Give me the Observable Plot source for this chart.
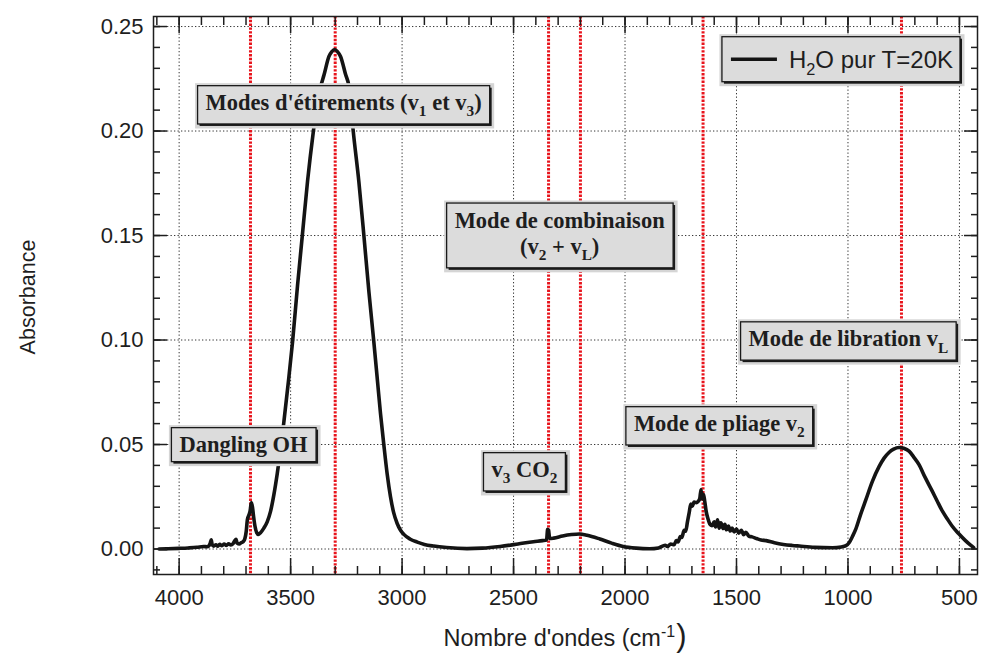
<!DOCTYPE html>
<html>
<head>
<meta charset="utf-8">
<script src="https://cdn.jsdelivr.net/npm/d3@7"></script>
<script src="https://cdn.jsdelivr.net/npm/@observablehq/plot@0.6"></script>
<style>
  html, body { margin: 0; padding: 0; background: #ffffff; }
  #chart { width: 981px; height: 657px; }
</style>
</head>
<body>
<div id="chart"></div>
<script>
// ---------------- Data ----------------
const wavenumbers = [
  4090, 4050, 4000, 3960, 3920, 3890, 3875, 3866, 3860, 3856, 3852, 3845, 3835, 3828, 3818, 3808,
  3798, 3788, 3778, 3768, 3758, 3750, 3745, 3740, 3730, 3722, 3712, 3705, 3699, 3694, 3688, 3682,
  3676, 3671, 3666, 3660, 3652, 3645, 3635, 3620, 3605, 3590, 3575, 3560, 3547, 3530, 3510, 3491,
  3469, 3447, 3424, 3398, 3380, 3365, 3350, 3328, 3315, 3302, 3290, 3276, 3253, 3238, 3219, 3194,
  3171, 3149, 3127, 3110, 3097, 3082, 3067, 3052, 3038, 3022, 3007, 2992, 2965, 2932, 2900, 2858, 2800,
  2709, 2640, 2560, 2480, 2411, 2370, 2352, 2347, 2343, 2338, 2320, 2280, 2240, 2205, 2170, 2113,
  2060, 2008, 1950, 1890, 1850, 1820, 1810, 1795, 1780, 1770, 1762, 1752, 1745, 1735, 1728, 1720,
  1712, 1705, 1698, 1690, 1680, 1672, 1665, 1659, 1655, 1648, 1642, 1636, 1628, 1620, 1610, 1600,
  1594, 1585, 1578, 1570, 1560, 1552, 1545, 1536, 1528, 1520, 1510, 1500, 1490, 1478, 1468, 1458,
  1445, 1430, 1410, 1390, 1367, 1330, 1290, 1250, 1218, 1150, 1069, 1030, 1009, 995, 980, 965,
  945, 920, 890, 860, 838, 816, 795, 771, 750, 726, 705, 682, 655, 622, 600, 577,
  555, 533, 505, 473, 450, 436
];
const absorbance = [
  0.0000, 0.0001, 0.0003, 0.0005, 0.0008, 0.0012, 0.0011, 0.0016, 0.0030, 0.0044, 0.0022, 0.0014, 0.0020, 0.0013, 0.0022, 0.0016,
  0.0024, 0.0017, 0.0025, 0.0019, 0.0026, 0.0040, 0.0047, 0.0028, 0.0024, 0.0030, 0.0036, 0.0050, 0.0085, 0.0140, 0.0160, 0.0180,
  0.0222, 0.0200, 0.0155, 0.0110, 0.0078, 0.0070, 0.0078, 0.0100, 0.0130, 0.0180, 0.0260, 0.0360, 0.0460, 0.0610, 0.0800, 0.0994,
  0.1260, 0.1505, 0.1760, 0.1998, 0.2140, 0.2213, 0.2269, 0.2357, 0.2380, 0.2390, 0.2380, 0.2357, 0.2269, 0.2213, 0.1998, 0.1759,
  0.1496, 0.1233, 0.0994, 0.0800, 0.0650, 0.0500, 0.0360, 0.0250, 0.0175, 0.0122, 0.0090, 0.0070, 0.0048, 0.0033, 0.0022, 0.0014, 0.0007,
  0.0002, 0.0004, 0.0012, 0.0024, 0.0035, 0.0040, 0.0043, 0.0094, 0.0090, 0.0050, 0.0052, 0.0062, 0.0069, 0.0072, 0.0066, 0.0048,
  0.0028, 0.0012, 0.0004, 0.0001, 0.0005, 0.0018, 0.0012, 0.0024, 0.0020, 0.0040, 0.0034, 0.0060, 0.0055, 0.0090, 0.0085, 0.0130,
  0.0175, 0.0215, 0.0205, 0.0225, 0.0222, 0.0228, 0.0240, 0.0285, 0.0240, 0.0262, 0.0225, 0.0180, 0.0145, 0.0120, 0.0112, 0.0130,
  0.0105, 0.0140, 0.0100, 0.0125, 0.0098, 0.0118, 0.0092, 0.0110, 0.0086, 0.0100, 0.0082, 0.0095, 0.0076, 0.0090, 0.0068, 0.0080,
  0.0062, 0.0058, 0.0050, 0.0043, 0.0040, 0.0030, 0.0022, 0.0017, 0.0014, 0.0008, 0.0006, 0.0010, 0.0016, 0.0030, 0.0060, 0.0095,
  0.0160, 0.0235, 0.0325, 0.0395, 0.0435, 0.0462, 0.0478, 0.0486, 0.0482, 0.0468, 0.0440, 0.0405, 0.0345, 0.0277, 0.0230, 0.0182,
  0.0145, 0.0110, 0.0075, 0.0040, 0.0018, 0.0006
];

// Vertical red dotted markers (cm-1)
const markerWavenumbers = [3680, 3300, 2343, 2200, 1650, 760];

// Axis ticks
const xMajorTicks = [4000, 3500, 3000, 2500, 2000, 1500, 1000, 500];
const xMinorTicks = [4100, 4000, 3900, 3800, 3700, 3600, 3500, 3400, 3300, 3200, 3100, 3000, 2900, 2800,
  2700, 2600, 2500, 2400, 2300, 2200, 2100, 2000, 1900, 1800, 1700, 1600, 1500, 1400, 1300, 1200,
  1100, 1000, 900, 800, 700, 600, 500];
const yMajorTicks = [0.00, 0.05, 0.10, 0.15, 0.20, 0.25];
const yMinorTicks = [-0.01, 0.00, 0.01, 0.02, 0.03, 0.04, 0.05, 0.06, 0.07, 0.08, 0.09, 0.10, 0.11, 0.12,
  0.13, 0.14, 0.15, 0.16, 0.17, 0.18, 0.19, 0.20, 0.21, 0.22, 0.23, 0.24, 0.25];

// Annotation labels ("_x" = subscript) and their anchor in data units
const annotationLabels = [
  "Modes d'étirements (v_1 et v_3)",
  "Mode de combinaison\n(v_2 + v_L)",
  "Dangling OH",
  "v_3 CO_2",
  "Mode de pliage v_2",
  "Mode de libration v_L"
];
const annotationWavenumber = [3260, 2290, 3708, 2449, 1575, 996];
const annotationAbsorbance = [0.2123, 0.1498, 0.0497, 0.0367, 0.0587, 0.0993];

const legendLabel = "H_2O pur T=20K";
const xTitle = "Nombre d'ondes (cm^{-1}";
const yTitle = "Absorbance";

// ---------------- Build ----------------
const spectrum = wavenumbers.map((w, i) => ({ w, a: absorbance[i] }));

const INK = "#1e1e1e";
const SANS = "'Liberation Sans', Arial, sans-serif";
const SERIF = "'Liberation Serif', 'Times New Roman', serif";

const chart = Plot.plot({
  width: 981,
  height: 657,
  marginLeft: 153,
  marginRight: 4,
  marginTop: 16,
  marginBottom: 83,
  x: { domain: [4115, 419] },
  y: { domain: [-0.0122, 0.2548] },
  style: { fontFamily: SANS, fontSize: "22px", color: INK, background: "#ffffff", overflow: "visible" },
  marks: [
    Plot.gridX({ ticks: xMajorTicks, stroke: "#333", strokeOpacity: 1, strokeWidth: 1, strokeDasharray: "1.3,2.2" }),
    Plot.gridY({ ticks: yMajorTicks, stroke: "#333", strokeOpacity: 1, strokeWidth: 1, strokeDasharray: "1.3,2.2" }),
    Plot.ruleX(markerWavenumbers, { stroke: "#e8141c", strokeWidth: 3, strokeDasharray: "2.4,1.4" }),
    Plot.line(spectrum, { x: "w", y: "a", stroke: "#141414", strokeWidth: 3.6, curve: "monotone-x", strokeLinejoin: "round" }),
    Plot.frame({ stroke: INK, strokeWidth: 1.5 }),
    // bottom axis: major ticks + labels, inward
    Plot.axisX({ ticks: xMajorTicks, anchor: "bottom", tickSize: -16, tickPadding: 31, strokeWidth: 1.5, tickFormat: d => String(d), label: null }),
    Plot.axisX({ ticks: xMinorTicks, anchor: "bottom", tickSize: -8, strokeWidth: 1.5, tickFormat: () => "", label: null }),
    // top axis ticks, inward
    Plot.axisX({ ticks: xMajorTicks, anchor: "top", tickSize: -16, strokeWidth: 1.5, tickFormat: () => "", label: null }),
    Plot.axisX({ ticks: xMinorTicks, anchor: "top", tickSize: -8, strokeWidth: 1.5, tickFormat: () => "", label: null }),
    // left axis
    Plot.axisY({ ticks: yMajorTicks, anchor: "left", tickSize: -14, tickPadding: 24, strokeWidth: 1.5, tickFormat: d3.format(".2f"), label: null }),
    Plot.axisY({ ticks: yMinorTicks, anchor: "left", tickSize: -7, strokeWidth: 1.5, tickFormat: () => "", label: null }),
    // right axis ticks
    Plot.axisY({ ticks: yMajorTicks, anchor: "right", tickSize: -14, strokeWidth: 1.5, tickFormat: () => "", label: null }),
    Plot.axisY({ ticks: yMinorTicks, anchor: "right", tickSize: -7, strokeWidth: 1.5, tickFormat: () => "", label: null })
  ]
});

document.getElementById("chart").append(chart);

const svg = d3.select(chart);
const sx = chart.scale("x");
const sy = chart.scale("y");

// Rich text line with _x subscripts and ^{..} superscripts
function richLine(g, str, x, y, size, family, weight) {
  const t = g.append("text")
    .attr("x", x).attr("y", y)
    .attr("text-anchor", "middle")
    .attr("font-family", family)
    .attr("font-size", size)
    .attr("font-weight", weight)
    .attr("fill", INK)
    .style("white-space", "pre");
  const re = /([_^])(\{[^}]*\}|.)/g;
  let last = 0, m, shift = 0;
  const push = (s, kind) => {
    const ts = t.append("tspan").text(s);
    const target = kind === "_" ? size * 0.28 : kind === "^" ? -size * 0.4 : 0;
    if (target !== shift) { ts.attr("dy", target - shift); shift = target; }
    if (kind) ts.attr("font-size", size * 0.68);
  };
  while ((m = re.exec(str))) {
    if (m.index > last) push(str.slice(last, m.index), null);
    let s = m[2];
    if (s[0] === "{") s = s.slice(1, -1);
    push(s, m[1]);
    last = re.lastIndex;
  }
  if (last < str.length) push(str.slice(last), null);
  t.node().__shift = shift;
  return t;
}

function drawBox(layer, x, y, w, h) {
  layer.append("rect").attr("x", x - 2.5).attr("y", y - 2.5).attr("width", w + 7).attr("height", h + 7).attr("fill", "#d5d5d5");
  layer.append("rect").attr("x", x + 2).attr("y", y + 2).attr("width", w).attr("height", h).attr("fill", "#1a1a1a");
  layer.append("rect").attr("x", x).attr("y", y).attr("width", w).attr("height", h)
    .attr("fill", "#dcdcdc").attr("stroke", "#1a1a1a").attr("stroke-width", 1.3);
}

// Annotations
const overlay = svg.append("g").attr("class", "annotations");
annotationLabels.forEach((label, i) => {
  const cx = sx.apply(annotationWavenumber[i]);
  const cy = sy.apply(annotationAbsorbance[i]);
  const group = overlay.append("g");
  const boxLayer = group.append("g");
  const textLayer = group.append("g");
  const size = 22.5;
  const lines = label.split("\n");
  lines.forEach((ln, k) => richLine(textLayer, ln, 0, k * 26.5, size, SERIF, "bold"));
  const bb = textLayer.node().getBBox();
  const padX = 8, padY = 4.5;
  const bw = bb.width + 2 * padX, bh = bb.height + 2 * padY;
  drawBox(boxLayer, bb.x - padX, bb.y - padY, bw, bh);
  group.attr("transform", `translate(${cx - (bb.x + bb.width / 2)},${cy - (bb.y + bb.height / 2)})`);
});

// Legend (top-right inside the frame)
{
  const lg = svg.append("g").attr("class", "legend");
  const boxLayer = lg.append("g");
  const content = lg.append("g");
  const size = 24;
  const sample = 46, gap = 12;
  const txt = richLine(content, legendLabel, 0, 0, size, SANS, "normal").attr("text-anchor", "start").attr("x", sample + gap);
  const tb = txt.node().getBBox();
  const capMid = -size * 0.36;
  content.append("line").attr("x1", 0).attr("x2", sample).attr("y1", capMid).attr("y2", capMid)
    .attr("stroke", "#141414").attr("stroke-width", 3.6);
  const padL = 9, padR = 7;
  const boxTop = -size * 0.36 - 22.5, boxH = 45;
  const boxW = padL + sample + gap + tb.width + padR;
  drawBox(boxLayer, -padL, boxTop, boxW, boxH);
  const frameRight = 981 - 4, frameTop = 16;
  const left = frameRight - 17 - boxW + padL;
  const top = frameTop + 20.7 - boxTop;
  lg.attr("transform", `translate(${left},${top})`);
}

// Axis titles
{
  const xc = (153 + 977) / 2;
  const t = richLine(svg, xTitle, xc, 646, 23.5, SANS, "normal");
  const sh = t.node().__shift;
  t.append("tspan").attr("dy", -sh).attr("dx", 1).attr("font-size", 31).attr("font-weight", "300").text(")");
  svg.append("text")
    .attr("transform", `translate(35,297) rotate(-90)`)
    .attr("text-anchor", "middle")
    .attr("font-family", SANS)
    .attr("font-size", 21.5)
    .attr("fill", INK)
    .text(yTitle);
}
</script>
</body>
</html>
